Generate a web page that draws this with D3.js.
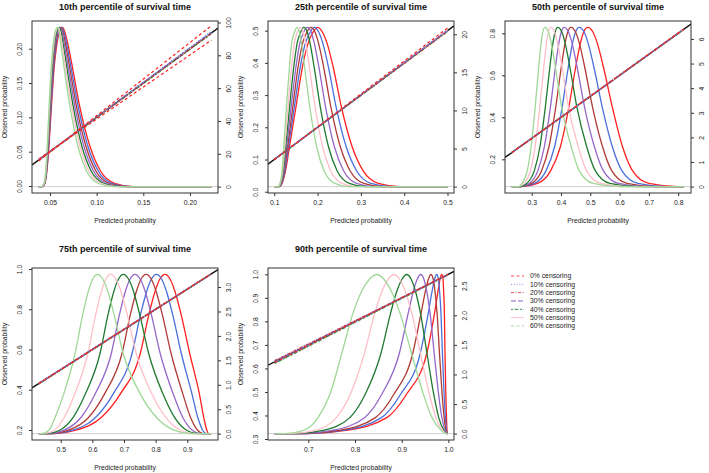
<!DOCTYPE html>
<html><head><meta charset="utf-8">
<script src="https://cdn.jsdelivr.net/npm/d3@7"></script>
<style>body{margin:0;background:#fff}svg{display:block}</style>
</head><body><svg id="c" width="709" height="473"></svg>
<script>
// ---------- data ----------
const titles = ["10th percentile of survival time","25th percentile of survival time","50th percentile of survival time","75th percentile of survival time","90th percentile of survival time"];
const censoring = ["0% censoring","10% censoring","20% censoring","30% censoring","40% censoring","50% censoring","60% censoring"];

// x/left-y/right-y ticks
const xTicks10=[0.05,0.10,0.15,0.20], yTicks10=[0,0.05,0.10,0.15,0.20], rTicks10=[0,20,40,60,80,100];
const xTicks25=[0.1,0.2,0.3,0.4,0.5], yTicks25=[0,0.1,0.2,0.3,0.4,0.5], rTicks25=[0,5,10,15,20];
const xTicks50=[0.3,0.4,0.5,0.6,0.7,0.8], yTicks50=[0.2,0.4,0.6,0.8], rTicks50=[0,1,2,3,4,5,6];
const xTicks75=[0.5,0.6,0.7,0.8,0.9], yTicks75=[0.2,0.4,0.6,0.8,1.0], rTicks75=[0,0.5,1,1.5,2,2.5,3];
const xTicks90=[0.7,0.8,0.9,1.0], yTicks90=[0.3,0.4,0.5,0.6,0.7,0.8,0.9,1.0], rTicks90=[0,0.5,1,1.5,2,2.5];

// axis ranges (data units)
const xDom10=[0.0307,0.2301], yDom10=[-0.0102,0.2404], rDom10=[-3.88,100.9];
const xDom25=[0.0855,0.515], yDom25=[-0.004,0.530], rDom25=[-0.836,21.74];
const xDom50=[0.2089,0.8437], yDom50=[0.0395,0.8586], rDom50=[-0.259,6.729];
const xDom75=[0.4093,0.997], yDom75=[0.1503,1.005], rDom75=[-0.13,3.39];
const xDom90=[0.6137,1.012], yDom90=[0.2958,1.0268], rDom90=[-0.108,2.80];

// predicted-probability extent of the data in each panel
const ext10=[0.038,0.223], ext25=[0.100,0.500], ext50=[0.232,0.820], ext75=[0.431,0.975], ext90=[0.628,0.999];

// density heights (right axis) at which each curve's x positions were read
const lev10=[0,1.9,9.7,24.3,48.5,72.8,87.3,94.1,97,94.1,87.3,72.8,48.5,24.3,9.7,1.9,0];
const lev25=[0,0.42,2.09,5.2,10.45,15.7,18.8,20.3,20.9,20.3,18.8,15.7,10.45,5.2,2.09,0.42,0];
const lev50=[0,0.13,0.65,1.62,3.24,4.85,5.82,6.28,6.47,6.28,5.82,4.85,3.24,1.62,0.65,0.13,0];
const lev75=[0,0.065,0.33,0.82,1.63,2.45,2.93,3.16,3.26,3.16,2.93,2.45,1.63,0.82,0.33,0.065,0];
const lev90=[0,0.054,0.27,0.67,1.35,2.02,2.42,2.61,2.69,2.61,2.42,2.02,1.35,0.67,0.27,0.054,0];

// density curves: predicted probability where each curve reaches the levels above
// order: 0%,10%,20%,30%,40%,50%,60% censoring
const dens10=[
 [0.0420,0.0445,0.0467,0.0488,0.0515,0.0545,0.0575,0.0600,0.0635,0.0660,0.0690,0.0740,0.0820,0.0930,0.1040,0.1200,0.1400],
 [0.0418,0.0443,0.0465,0.0485,0.0511,0.0540,0.0568,0.0592,0.0626,0.0650,0.0678,0.0725,0.0803,0.0908,0.1015,0.1170,0.1363],
 [0.0417,0.0442,0.0463,0.0482,0.0507,0.0534,0.0562,0.0584,0.0617,0.0640,0.0665,0.0710,0.0785,0.0887,0.0990,0.1140,0.1327],
 [0.0415,0.0440,0.0461,0.0479,0.0503,0.0529,0.0555,0.0578,0.0608,0.0630,0.0653,0.0695,0.0768,0.0865,0.0965,0.1110,0.1290],
 [0.0413,0.0438,0.0459,0.0476,0.0498,0.0524,0.0548,0.0570,0.0598,0.0620,0.0640,0.0680,0.0750,0.0843,0.0940,0.1080,0.1253],
 [0.0412,0.0437,0.0457,0.0473,0.0494,0.0518,0.0542,0.0562,0.0589,0.0608,0.0628,0.0665,0.0733,0.0822,0.0915,0.1050,0.1217],
 [0.0410,0.0435,0.0455,0.0470,0.0490,0.0513,0.0535,0.0555,0.0580,0.0597,0.0615,0.0650,0.0715,0.0800,0.0890,0.1020,0.1180]];
const dens25=[
 [0.112,0.118,0.126,0.135,0.150,0.165,0.178,0.190,0.200,0.211,0.222,0.236,0.255,0.280,0.305,0.340,0.390],
 [0.1113,0.1172,0.1247,0.1328,0.1463,0.1600,0.1717,0.1830,0.1920,0.2025,0.2122,0.2250,0.2428,0.2663,0.2900,0.3233,0.370],
 [0.1107,0.1163,0.1233,0.1307,0.1427,0.1550,0.1653,0.1755,0.1840,0.1940,0.2023,0.2140,0.2307,0.2527,0.2750,0.3067,0.350],
 [0.1100,0.1155,0.1220,0.1285,0.1390,0.1500,0.1590,0.1680,0.1760,0.1850,0.1925,0.2030,0.2185,0.2390,0.2600,0.2900,0.330],
 [0.1093,0.1147,0.1207,0.1263,0.1353,0.1450,0.1527,0.1610,0.1680,0.1760,0.1827,0.1920,0.2063,0.2253,0.2450,0.2733,0.310],
 [0.1087,0.1138,0.1193,0.1242,0.1317,0.1400,0.1463,0.1535,0.1600,0.1665,0.1728,0.1810,0.1942,0.2117,0.2300,0.2567,0.290],
 [0.108,0.113,0.118,0.122,0.128,0.135,0.140,0.147,0.152,0.158,0.163,0.170,0.182,0.198,0.215,0.240,0.270]];
const dens50=[
 [0.265,0.320,0.365,0.398,0.427,0.450,0.466,0.4775,0.491,0.509,0.524,0.545,0.575,0.610,0.644,0.700,0.800],
 [0.2630,0.3095,0.3491,0.3781,0.4041,0.4249,0.4393,0.4497,0.462,0.4788,0.4928,0.5124,0.5406,0.5752,0.6078,0.6622,0.7602],
 [0.2611,0.2993,0.3338,0.3590,0.3822,0.4009,0.4137,0.4231,0.434,0.4497,0.4628,0.4810,0.5075,0.5418,0.5730,0.6259,0.7220],
 [0.2595,0.2910,0.3212,0.3432,0.3640,0.3810,0.3926,0.4011,0.411,0.4257,0.4380,0.4551,0.4802,0.5141,0.5443,0.5959,0.6904],
 [0.2580,0.2830,0.3091,0.3281,0.3466,0.3619,0.3723,0.3800,0.389,0.4028,0.4143,0.4304,0.4541,0.4877,0.5168,0.5672,0.6602],
 [0.2564,0.2743,0.2960,0.3117,0.3278,0.3413,0.3504,0.3571,0.365,0.3778,0.3885,0.4035,0.4257,0.4590,0.4869,0.5360,0.6274],
 [0.255,0.267,0.285,0.298,0.312,0.324,0.332,0.338,0.345,0.357,0.367,0.381,0.402,0.435,0.462,0.510,0.600]];
const dens75=[
 [0.480,0.545,0.628,0.689,0.751,0.779,0.799,0.813,0.830,0.846,0.860,0.880,0.908,0.938,0.952,0.962,0.967],
 [0.4750,0.5350,0.6100,0.6665,0.7250,0.7527,0.7724,0.7863,0.803,0.8192,0.8333,0.8533,0.8815,0.9144,0.9332,0.9491,0.9598],
 [0.4688,0.5230,0.5880,0.6390,0.6933,0.7205,0.7399,0.7536,0.770,0.7864,0.8006,0.8206,0.8492,0.8856,0.9103,0.9334,0.9510],
 [0.4622,0.5090,0.5640,0.6095,0.6595,0.6862,0.7053,0.7189,0.735,0.7514,0.7659,0.7859,0.8148,0.8550,0.8858,0.9167,0.9417],
 [0.4553,0.4950,0.5390,0.5785,0.6239,0.6500,0.6688,0.6822,0.698,0.7146,0.7292,0.7492,0.7784,0.8226,0.8601,0.8991,0.9318],
 [0.4478,0.4790,0.5110,0.5450,0.5854,0.6110,0.6294,0.6426,0.658,0.6747,0.6896,0.7096,0.7392,0.7877,0.8322,0.8800,0.9212],
 [0.440,0.462,0.482,0.510,0.545,0.570,0.588,0.601,0.616,0.633,0.648,0.668,0.698,0.751,0.803,0.860,0.910]];
const dens90=[
 [0.700,0.780,0.868,0.9107,0.9535,0.970,0.978,0.982,0.9857,0.9885,0.9897,0.9915,0.9927,0.9945,0.996,0.997,0.998],
 [0.6962,0.7731,0.8567,0.8980,0.9395,0.9565,0.9654,0.9704,0.9750,0.9788,0.9810,0.9842,0.9872,0.9908,0.9936,0.9961,0.9978],
 [0.6918,0.7652,0.8437,0.8836,0.9235,0.9411,0.9511,0.9571,0.9627,0.9676,0.9711,0.9759,0.9810,0.9865,0.9909,0.9950,0.9975],
 [0.6839,0.7509,0.8205,0.8577,0.8947,0.9135,0.9253,0.9332,0.9407,0.9476,0.9533,0.9610,0.9697,0.9790,0.9860,0.9931,0.9970],
 [0.6730,0.7315,0.7888,0.8222,0.8554,0.8757,0.8901,0.9006,0.9107,0.9203,0.9290,0.9406,0.9543,0.9685,0.9793,0.9905,0.9964],
 [0.6633,0.7139,0.7601,0.7902,0.8199,0.8416,0.8584,0.8712,0.8835,0.8956,0.9070,0.9221,0.9404,0.9591,0.9732,0.9882,0.9958],
 [0.650,0.690,0.721,0.7465,0.7715,0.795,0.815,0.831,0.8465,0.862,0.877,0.897,0.9214,0.9463,0.965,0.985,0.995]];

// calibration lines: observed probability at start / end of the data extent
const calA10=[0.0365,0.038,0.0385,0.0385,0.038,0.0375,0.038], calB10=[0.2335,0.225,0.2225,0.224,0.222,0.223,0.2235];
const calA25=[0.099,0.100,0.101,0.1005,0.0995,0.100,0.1005], calB25=[0.508,0.502,0.497,0.500,0.499,0.501,0.500];
const calA50=[0.231,0.232,0.233,0.2325,0.2315,0.232,0.233], calB50=[0.822,0.821,0.819,0.820,0.8195,0.8205,0.820];
const calA75=[0.430,0.432,0.433,0.431,0.429,0.432,0.430], calB75=[0.976,0.975,0.974,0.975,0.9745,0.9755,0.975];
const calA90=[0.625,0.630,0.633,0.627,0.622,0.634,0.620], calB90=[1.000,0.999,0.998,0.999,0.998,0.999,0.997];
// lower 0% censoring line, visible only in the 10th percentile panel
const calLow10=[0.0395,0.2125];

// ---------- styles ----------
const colors=["#ff2020","#4a6fdc","#b03a34","#9467c9","#1f7a30","#ffbfca","#9fd896"];
const legColors=["#ff4a4a","#8a8ae8","#e0505a","#8a5cc8","#3a8a48","#ffc4cc","#a8dca0"];
const dashes=["3,2.5","1,1.8","3,1.5,1,1.5","5,2","2,1.5,4,1.5",null,"3,2.5"];
const FONT="'Liberation Sans', Arial, Helvetica, sans-serif";
const AX="#333";

const panels=[
 {key:"p10",title:titles[0],box:[32,21,218,193],ty:10,xd:xDom10,yd:yDom10,rd:rDom10,xt:xTicks10,yt:yTicks10,rt:rTicks10,xf:".2f",yf:".2f",rf:"d",ext:ext10,lev:lev10,dens:dens10,ca:calA10,cb:calB10,low:calLow10},
 {key:"p25",title:titles[1],box:[268,21,454,193],ty:10,xd:xDom25,yd:yDom25,rd:rDom25,xt:xTicks25,yt:yTicks25,rt:rTicks25,xf:".1f",yf:".1f",rf:"d",ext:ext25,lev:lev25,dens:dens25,ca:calA25,cb:calB25},
 {key:"p50",title:titles[2],box:[505,21,691,193],ty:10,xd:xDom50,yd:yDom50,rd:rDom50,xt:xTicks50,yt:yTicks50,rt:rTicks50,xf:".1f",yf:".1f",rf:"d",ext:ext50,lev:lev50,dens:dens50,ca:calA50,cb:calB50},
 {key:"p75",title:titles[3],box:[32,268,218,440],ty:252,xd:xDom75,yd:yDom75,rd:rDom75,xt:xTicks75,yt:yTicks75,rt:rTicks75,xf:".1f",yf:".1f",rf:".1f",ext:ext75,lev:lev75,dens:dens75,ca:calA75,cb:calB75},
 {key:"p90",title:titles[4],box:[268,268,454,440],ty:252,xd:xDom90,yd:yDom90,rd:rDom90,xt:xTicks90,yt:yTicks90,rt:rTicks90,xf:".1f",yf:".1f",rf:".1f",ext:ext90,lev:lev90,dens:dens90,ca:calA90,cb:calB90}
];

const svg=d3.select("#c");
const defs=svg.append("defs");

function styleAxis(g){
  g.select(".domain").remove();
  g.selectAll(".tick line").attr("stroke",AX);
  g.selectAll("text").attr("font-size",6.8).attr("font-family",FONT).attr("fill","#222");
}

panels.forEach(p=>{
  const [x0,y0,x1,y1]=p.box;
  const x=d3.scaleLinear().domain(p.xd).range([x0,x1]);
  const y=d3.scaleLinear().domain(p.yd).range([y1,y0]);
  const r=d3.scaleLinear().domain(p.rd).range([y1,y0]);
  defs.append("clipPath").attr("id","clip"+p.key).append("rect")
    .attr("x",x0).attr("y",y0).attr("width",x1-x0).attr("height",y1-y0);
  const g=svg.append("g").attr("clip-path",`url(#clip${p.key})`);
  g.append("line").attr("x1",x0).attr("x2",x1).attr("y1",r(0)).attr("y2",r(0))
    .attr("stroke","#cfcfcf").attr("stroke-width",1);
  const dl=d3.line().x(d=>x(d[0])).y(d=>r(d[1])).curve(d3.curveMonotoneX);
  p.dens.forEach((xs,k)=>{
    const pts=[[p.ext[0],0]].concat(xs.map((v,i)=>[v,p.lev[i]]),[[p.ext[1],0]]);
    g.append("path").attr("d",dl(pts)).attr("fill","none")
      .attr("stroke",colors[k]).attr("stroke-width",1.3);
  });
  const ll=d3.line().x(d=>x(d[0])).y(d=>y(d[1]));
  g.append("path").attr("d",ll([[p.xd[0],p.xd[0]],[p.xd[1],p.xd[1]]]))
    .attr("fill","none").attr("stroke","#111").attr("stroke-width",1.4);
  for(let k=6;k>=0;k--){
    g.append("path").attr("d",ll([[p.ext[0],p.ca[k]],[p.ext[1],p.cb[k]]]))
      .attr("fill","none").attr("stroke",colors[k]).attr("stroke-width",1.2)
      .attr("stroke-dasharray",dashes[k]);
  }
  if(p.low){
    g.append("path").attr("d",ll([[p.ext[0],p.low[0]],[p.ext[1],p.low[1]]]))
      .attr("fill","none").attr("stroke",colors[0]).attr("stroke-width",1.2)
      .attr("stroke-dasharray",dashes[0]);
  }
  svg.append("rect").attr("x",x0).attr("y",y0).attr("width",x1-x0).attr("height",y1-y0)
    .attr("fill","none").attr("stroke",AX).attr("stroke-width",1);

  const gx=svg.append("g").attr("transform",`translate(0,${y1})`)
    .call(d3.axisBottom(x).tickValues(p.xt).tickFormat(d3.format(p.xf)).tickSize(3).tickPadding(4));
  styleAxis(gx);
  gx.selectAll("text").attr("y",7).attr("dy","0.71em");
  const gy=svg.append("g").attr("transform",`translate(${x0},0)`)
    .call(d3.axisLeft(y).tickValues(p.yt).tickFormat(d3.format(p.yf)).tickSize(3));
  styleAxis(gy);
  gy.selectAll("text").attr("transform","rotate(-90)").attr("x",0).attr("y",-10.5)
    .attr("dy",0).attr("text-anchor","middle");
  const gr=svg.append("g").attr("transform",`translate(${x1},0)`)
    .call(d3.axisRight(r).tickValues(p.rt).tickFormat(d3.format(p.rf)).tickSize(3));
  styleAxis(gr);
  gr.selectAll("text").attr("transform","rotate(-90)").attr("x",0).attr("y",12.5)
    .attr("dy",0).attr("text-anchor","middle");

  const cx=(x0+x1)/2, cy=(y0+y1)/2;
  svg.append("text").attr("x",cx).attr("y",p.ty).attr("text-anchor","middle")
    .attr("font-family",FONT).attr("font-weight","bold").attr("font-size",9).attr("fill","#111")
    .text(p.title);
  svg.append("text").attr("x",cx).attr("y",y1+30).attr("text-anchor","middle")
    .attr("font-family",FONT).attr("font-size",6.8).attr("fill","#222").text("Predicted probability");
  svg.append("text").attr("transform",`translate(${x0-25.5},${cy}) rotate(-90)`).attr("text-anchor","middle")
    .attr("font-family",FONT).attr("font-size",6.8).attr("fill","#222").text("Observed probability");
});

// legend
const leg=svg.append("g");
censoring.forEach((lab,i)=>{
  const yy=276+i*8.33;
  leg.append("line").attr("x1",511).attr("x2",524).attr("y1",yy).attr("y2",yy)
    .attr("stroke",legColors[i]).attr("stroke-width",1).attr("stroke-dasharray",dashes[i]);
  leg.append("text").attr("x",530).attr("y",yy+2.4).attr("font-family",FONT)
    .attr("font-size",6.8).attr("fill","#222").text(lab);
});
</script></body></html>
